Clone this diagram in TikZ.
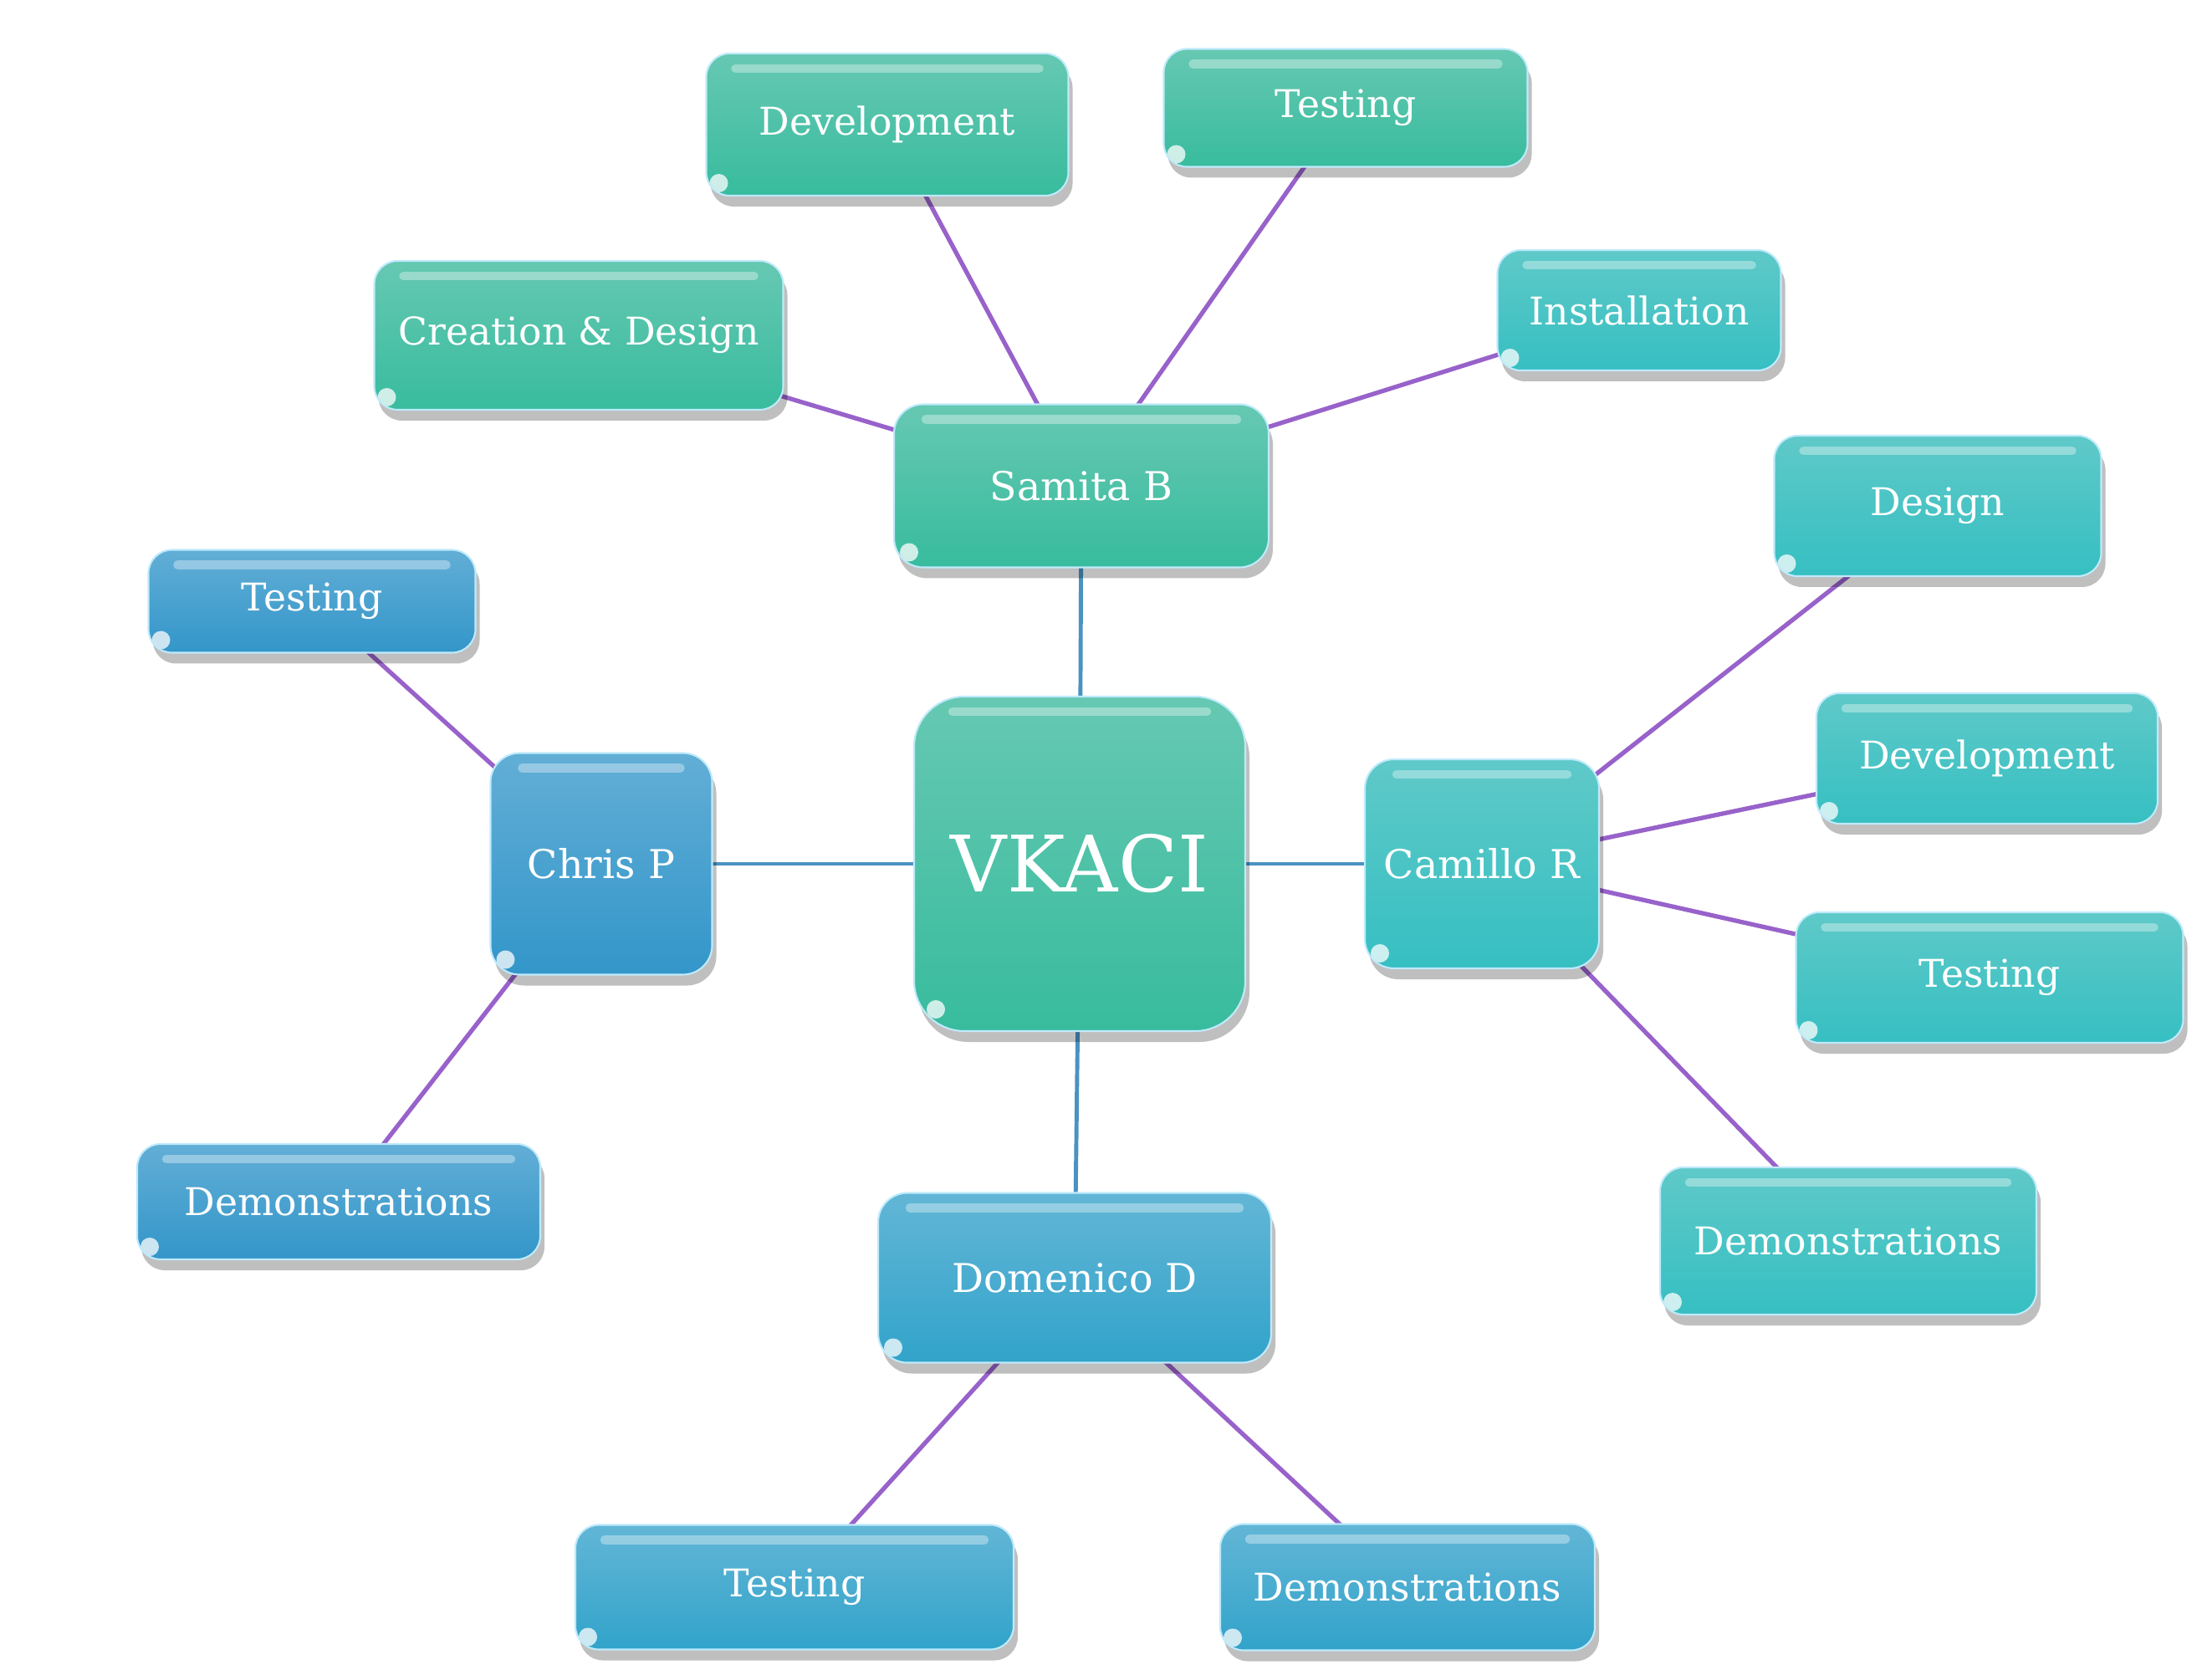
\documentclass[tikz,border=0pt]{standalone}
\usepackage{fontspec}
\setmainfont{DejaVu Serif}
\usepackage{tikz}
\usetikzlibrary{positioning,backgrounds,shadows}
\definecolor{greentop}{HTML}{66C8B2}
\definecolor{greenbot}{HTML}{38BC9E}
\definecolor{cyantop}{HTML}{5FC9C8}
\definecolor{cyanbot}{HTML}{36BFC2}
\definecolor{bluetop}{HTML}{62AED6}
\definecolor{bluebot}{HTML}{3396C9}
\definecolor{skytop}{HTML}{62B6D6}
\definecolor{skybot}{HTML}{32A3CA}
\definecolor{hublinkcol}{HTML}{4A92C2}
\definecolor{tasklinkcol}{HTML}{9862CA}
\tikzset{
  glossbox/.style={draw=cyan!25!white, line width=0.6pt, align=center,
    text=white, inner sep=2pt,
    drop shadow={shadow xshift=0.5mm, shadow yshift=-1.3mm, opacity=0.25, fill=black},
    path picture={
      \draw[white, opacity=0.35, line width=3pt, line cap=round]
        ([xshift=#1+2mm,yshift=-1.8mm]path picture bounding box.north west) --
        ([xshift=-#1-2mm,yshift=-1.8mm]path picture bounding box.north east);
      \fill[white, opacity=0.75]
        ([xshift=#1,yshift=#1]path picture bounding box.south west) circle (1.1mm);
    }},
  glossbox/.default=1.5mm,
  hubbox/.style={glossbox=2.6mm, rounded corners=6mm, font=\fontsize{26.5}{30}\selectfont},
  leadbox/.style={glossbox=1.8mm, rounded corners=3.5mm, font=\fontsize{13.5}{16}\selectfont},
  taskbox/.style={glossbox, rounded corners=2.8mm, font=\fontsize{13}{15}\selectfont},
  greenfill/.style={top color=greentop, bottom color=greenbot},
  cyanfill/.style={top color=cyantop, bottom color=cyanbot},
  bluefill/.style={top color=bluetop, bottom color=bluebot},
  skyfill/.style={top color=skytop, bottom color=skybot},
  hublink/.style={draw=hublinkcol, line width=1.4pt},
  tasklink/.style={draw=tasklinkcol, line width=1.5pt},
}

\begin{document}
\begin{tikzpicture}
  \useasboundingbox (0,0) rectangle (26.33,20.08);
  % centre
  \node[hubbox, greenfill, minimum width=3.96cm, minimum height=4.00cm] (vkaci) at (12.91,9.75) {VKACI};
  % team members
  \node[leadbox, greenfill, minimum width=4.48cm, minimum height=1.95cm] (samita) at (12.93,14.27) {Samita B};
  \node[leadbox, bluefill, minimum width=2.65cm, minimum height=2.65cm] (chris) at (7.19,9.75) {Chris P};
  \node[leadbox, cyanfill, minimum width=2.80cm, minimum height=2.50cm] (camillo) at (17.72,9.75) {Camillo R};
  \node[leadbox, skyfill, minimum width=4.70cm, minimum height=2.03cm] (domenico) at (12.85,4.80) {Domenico D};
  % Samita B
  \node[taskbox, greenfill, minimum width=4.89cm, minimum height=1.78cm] (screate) at (6.92,16.07) {Creation \& Design};
  \node[taskbox, greenfill, minimum width=4.33cm, minimum height=1.70cm] (sdev) at (10.61,18.59) {Development};
  \node[taskbox, greenfill, minimum width=4.35cm, minimum height=1.41cm] (stest) at (16.09,18.79) {Testing};
  \node[taskbox, cyanfill, minimum width=3.39cm, minimum height=1.44cm] (sinst) at (19.60,16.37) {Installation};
  % Camillo R
  \node[taskbox, cyanfill, minimum width=3.91cm, minimum height=1.68cm] (cdesign) at (23.17,14.03) {Design};
  \node[taskbox, cyanfill, minimum width=4.08cm, minimum height=1.56cm] (cdev) at (23.76,11.01) {Development};
  \node[taskbox, cyanfill, minimum width=4.63cm, minimum height=1.56cm] (ctest) at (23.79,8.39) {Testing};
  \node[taskbox, cyanfill, minimum width=4.50cm, minimum height=1.76cm] (cdemo) at (22.10,5.24) {Demonstrations};
  % Chris P
  \node[taskbox, bluefill, minimum width=3.91cm, minimum height=1.23cm] (ptest) at (3.73,12.89) {Testing};
  \node[taskbox, bluefill, minimum width=4.82cm, minimum height=1.38cm] (pdemo) at (4.05,5.71) {Demonstrations};
  % Domenico D
  \node[taskbox, skyfill, minimum width=5.24cm, minimum height=1.49cm] (dtest) at (9.50,1.10) {Testing};
  \node[taskbox, skyfill, minimum width=4.48cm, minimum height=1.51cm] (ddemo) at (16.83,1.10) {Demonstrations};
  % links
  \begin{scope}[on background layer]
    \foreach \lead in {samita,chris,camillo,domenico}
      \draw[hublink] (vkaci.center) -- (\lead.center);
    \foreach \task in {screate,sdev,stest,sinst}
      \draw[tasklink] (samita.center) -- (\task.center);
    \foreach \task in {cdesign,cdev,ctest,cdemo}
      \draw[tasklink] (camillo.center) -- (\task.center);
    \foreach \task in {ptest,pdemo}
      \draw[tasklink] (chris.center) -- (\task.center);
    \foreach \task in {dtest,ddemo}
      \draw[tasklink] (domenico.center) -- (\task.center);
  \end{scope}
\end{tikzpicture}
\end{document}
